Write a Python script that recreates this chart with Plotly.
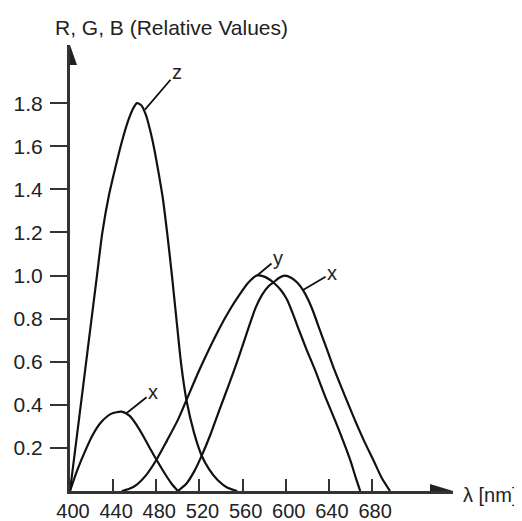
import plotly.graph_objects as go

# ---------------- data ----------------
z_nm  = [400, 412.5, 425, 430, 436, 442, 448, 454, 458, 462, 466, 470, 474, 478, 482, 486, 490, 494.5, 499, 503, 508, 515, 522, 529, 537, 546, 555]
z_val = [0.0, 0.5, 1.0, 1.2, 1.37, 1.5, 1.62, 1.72, 1.77, 1.8, 1.79, 1.75, 1.68, 1.59, 1.48, 1.36, 1.2, 1.0, 0.78, 0.59, 0.42, 0.27, 0.165, 0.10, 0.05, 0.015, 0.0]

xb_nm  = [400, 407, 414, 421, 429, 438, 448, 455, 462, 469, 475, 481, 488, 494, 500]
xb_val = [0.0, 0.1, 0.185, 0.26, 0.32, 0.358, 0.368, 0.35, 0.305, 0.245, 0.19, 0.138, 0.08, 0.035, 0.0]

y_nm  = [448, 455, 462, 470, 480, 490, 500, 508, 520, 538, 548, 557, 565, 573, 580, 588, 595, 601, 606, 612, 619, 627, 636, 645.5, 653, 660, 665, 669]
y_val = [0.0, 0.01, 0.03, 0.07, 0.144, 0.235, 0.33, 0.423, 0.563, 0.75, 0.84, 0.91, 0.965, 1.0, 0.995, 0.97, 0.935, 0.89, 0.83, 0.75, 0.66, 0.563, 0.445, 0.33, 0.235, 0.14, 0.06, 0.0]

xr_nm  = [500, 508, 515, 522, 530, 538, 547, 556, 565, 572, 578, 584, 589, 594, 599, 605, 611, 616, 621, 626, 631, 638, 645, 654.5, 664, 673, 682, 689, 696.6]
xr_val = [0.0, 0.035, 0.09, 0.163, 0.26, 0.37, 0.49, 0.615, 0.75, 0.85, 0.91, 0.95, 0.97, 0.99, 1.0, 0.99, 0.965, 0.932, 0.885, 0.825, 0.755, 0.66, 0.563, 0.445, 0.33, 0.228, 0.135, 0.06, 0.0]

x_ticks = [400, 440, 480, 520, 560, 600, 640, 680]
y_ticks = [0.2, 0.4, 0.6, 0.8, 1.0, 1.2, 1.4, 1.6, 1.8]

# curve labels: (text, point on curve, label position)
labels = [
    ("z", (469.5, 1.77), (499.2, 1.944)),
    ("x", (452.6, 0.362), (477.0, 0.459)),
    ("y", (573.4, 1.0), (592.8, 1.081)),
    ("x", (616.0, 0.933), (642.9, 1.012)),
]

X_MAX = 755
Y_MAX = 2.07

# ---------------- figure ----------------
FONT = "Liberation Sans, Arial, sans-serif"
AX = "#333333"
LINE = "#111111"
TXT = "#222222"

fig = go.Figure()
for xs, ys in [(z_nm, z_val), (xb_nm, xb_val), (y_nm, y_val), (xr_nm, xr_val)]:
    fig.add_trace(go.Scatter(x=xs, y=ys, mode="lines",
                             line=dict(color=LINE, width=2.2, shape="spline", smoothing=0.7),
                             showlegend=False, hoverinfo="skip"))

for txt, (px, py), (tx, ty) in labels:
    fig.add_annotation(x=px, y=py, xref="x", yref="y", ax=tx, ay=ty, axref="x", ayref="y",
                       text=txt, showarrow=True, arrowhead=0, arrowwidth=1.8, arrowcolor=LINE,
                       font=dict(family=FONT, size=20, color=TXT), standoff=0)

# axis arrow heads
fig.add_shape(type="path", xref="x", yref="y", xsizemode="pixel", ysizemode="pixel",
              xanchor=X_MAX, yanchor=0, path="M 0 0 L -23 7 L -23 -7 Z",
              fillcolor="#222", line=dict(width=0))
fig.add_shape(type="path", xref="x", yref="y", xsizemode="pixel", ysizemode="pixel",
              xanchor=400, yanchor=Y_MAX, path="M 0 0 L -7 -20 L 7 -20 Z",
              fillcolor="#222", line=dict(width=0))

fig.add_annotation(x=0.266, y=1.040, xref="paper", yref="paper", showarrow=False,
                   text="R, G, B (Relative Values)", xanchor="center", yanchor="middle",
                   font=dict(family=FONT, size=21, color=TXT))
fig.add_annotation(x=1.0966, y=-0.009, xref="paper", yref="paper", showarrow=False,
                   text="λ [nm]", xanchor="center", yanchor="middle",
                   font=dict(family=FONT, size=20, color=TXT))

# the page body adds an 8 px offset, so the figure is 8 px smaller and shifted
fig.update_layout(
    width=514, height=513,
    margin=dict(l=62, r=69, t=37, b=30, autoexpand=False),
    paper_bgcolor="white", plot_bgcolor="white",
    showlegend=False,
    xaxis=dict(range=[400, X_MAX], tickvals=x_ticks, ticktext=[str(v) for v in x_ticks],
               ticks="inside", ticklen=12, tickwidth=2, tickcolor=AX, automargin=False,
               showline=True, linecolor=AX, linewidth=3, showgrid=False, zeroline=False,
               tickfont=dict(family=FONT, size=20, color=TXT), ticklabelshift=3),
    yaxis=dict(range=[0, Y_MAX], tickvals=y_ticks, ticktext=[f"{v:.1f}" for v in y_ticks],
               ticks="outside", ticklen=17, tickwidth=2, tickcolor=AX, automargin=False,
               showline=True, linecolor=AX, linewidth=3, showgrid=False, zeroline=False,
               tickfont=dict(family=FONT, size=21, color=TXT), ticklabelstandoff=3),
)

fig.write_html("out.html")
